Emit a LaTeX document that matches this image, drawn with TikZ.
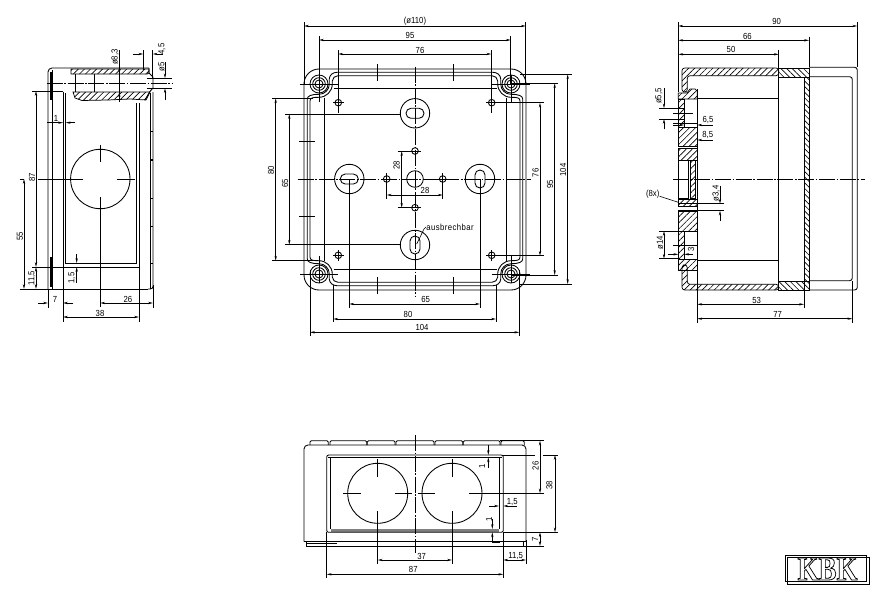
\documentclass[tikz,border=0pt]{standalone}
\usepackage{fontspec}
\setmainfont[FakeStretch=.88]{Liberation Sans}
\newfontfamily\logofont{Liberation Serif}
\usetikzlibrary{arrows.meta,patterns.meta}
\tikzset{
	>={Stealth[length=3.6pt,width=1.7pt]},
	partline/.style={line width=.65pt},
	boldline/.style={line width=1.1pt},
	extline/.style={line width=.45pt},
	dimline/.style={line width=.45pt,<->},
	centerline/.style={line width=.4pt,dash pattern=on 12pt off 1.2pt on 1.2pt off 1.2pt},
	hatch/.style={line width=.55pt,pattern={Lines[angle=45,distance=3.2pt,line width=.5pt]}},
	backhatch/.style={line width=.55pt,pattern={Lines[angle=-45,distance=3pt,line width=.5pt]}},
	dimtext/.style={font=\fontsize{6.6}{7}\selectfont,inner sep=0pt},
	dimtextv/.style={dimtext,rotate=90},
}
\begin{document}
\begin{tikzpicture}[x=.75pt,y=-.75pt]
	\useasboundingbox (0,0) rectangle (875,600);

	% left view
	\draw[partline,rounded corners=3pt] (48,289) -- (48,68) -- (149,68);
	\draw[partline] (149,68) -- (149,73) -- (153,77) -- (153,88) -- (149.5,92) -- (145,100);
	\draw[partline] (48,289) -- (148,289);
	\draw[partline] (52,70) -- (52,289);
	\fill (49.5,72) rectangle (52,100);
	\fill (49.5,257) rectangle (52,287);
	\draw[hatch] (71,69) -- (149,69) -- (149,73) -- (147,74) -- (71,74) -- cycle;
	\draw[hatch] (73,92) -- (150,92) -- (146,100) -- (130,99) -- (108,100) -- (82,100.5) -- (75,98) -- cycle;
	\draw[partline] (75,74) -- (75,92);
	\draw[boldline] (94.3,74) -- (94.3,92);
	\draw[partline] (147,78.3) -- (153,78.3);
	\draw[partline] (147,88.3) -- (153,88.3);
	\draw[partline] (63,92) -- (63,267) -- (139,267) -- (139,103);
	\draw[partline] (65.7,93) -- (65.7,263) -- (136.7,263) -- (136.7,103);
	\draw[partline,rounded corners=2pt] (150,93) -- (150,289);
	\draw[partline,rounded corners=2pt] (153,92) -- (153,289) -- (148,289);
	\foreach \ty in {131.7,160,198.3,226.7,263.3}
		\draw[boldline] (150,\ty) -- (152.5,\ty);
	\draw[partline] (100.3,179) circle[radius=29.7];
	\draw[extline] (38,179) -- (83,179);
	\draw[extline] (117,179) -- (135,179);
	\draw[extline] (100.3,145) -- (100.3,162);
	\draw[extline] (100.3,197) -- (100.3,307);
	\draw[centerline] (46.7,83.3) -- (171.7,83.3);

	\draw[extline] (32,91) -- (63,91);
	\draw[extline] (32,267) -- (65,267);
	\draw[extline] (20,289) -- (48,289);
	\draw[dimline] (36,91) -- (36,267);
	\draw[dimline] (36,267) -- (36,289);
	\draw[dimline] (24,179) -- (24,289);
	\draw[extline] (24,179) -- (20,179);
	\node[dimtextv] (leftA) at (32,177) {87};
	\node[dimtextv] (leftB) at (20,236) {55};
	\node[dimtextv] (leftC) at (32,278) {11,5};
	\draw[->,extline] (47,122.7) -- (63,122.7);
	\draw[->,extline] (75,122.7) -- (65.7,122.7);
	\node[dimtext] (leftD) at (56,118) {1};
	\draw[->,extline] (76.7,254) -- (76.7,263);
	\draw[->,extline] (76.7,283) -- (76.7,267);
	\node[dimtextv] (leftE) at (72,278) {1,5};
	\draw[extline] (48,289) -- (48,308);
	\draw[extline] (63,267) -- (63,322);
	\draw[extline] (139,267) -- (139,322);
	\draw[extline] (153,285) -- (153,308);
	\draw[->,extline] (38,303) -- (48,303);
	\draw[->,extline] (73,303) -- (63,303);
	\node[dimtext] (leftF) at (55,299) {7};
	\draw[dimline] (100.3,303) -- (153,303);
	\node[dimtext] (leftG) at (128,299) {26};
	\draw[dimline] (63,317) -- (139,317);
	\node[dimtext] (leftH) at (100,313) {38};
	\draw[extline] (119.3,50) -- (119.3,102);
	\draw[->,extline] (119.3,60) -- (119.3,74);
	\draw[->,extline] (119.3,100) -- (119.3,92);
	\node[dimtextv] (leftI) at (115,57) {ø8,3};
	\draw[extline] (143.3,50) -- (143.3,70);
	\draw[extline] (152.7,50) -- (152.7,78);
	\draw[->,extline] (133,54) -- (143.3,54);
	\draw[->,extline] (163,54) -- (152.7,54);
	\node[dimtextv] (leftJ) at (162,49) {4,5};
	\draw[extline] (150,78.3) -- (172,78.3);
	\draw[extline] (150,88.3) -- (172,88.3);
	\draw[->,extline] (165,62) -- (165,78.3);
	\draw[->,extline] (165,100) -- (165,88.3);
	\node[dimtextv] (leftK) at (161.5,67) {ø5};

	% top view
	\draw[partline,rounded corners=11.25pt] (304,69) rectangle (526,290);
	\foreach \sx/\sy in {1/1,-1/1,1/-1,-1/-1} {
		\begin{scope}[shift={(415,179)},xscale=\sx,yscale=\sy]
			\draw[partline] (-107.7,0) -- (-107.7,-80) .. controls (-107.7,-83) and (-104,-84.7) .. (-96,-84.7) .. controls (-90.3,-84.7) and (-85.7,-89.3) .. (-85.7,-95) -- (-85.7,-100) .. controls (-85.7,-104) and (-82,-106.7) .. (-78,-106.7) -- (0,-106.7);
			\draw[partline] (-105,0) -- (-105,-78) .. controls (-105,-81.4) and (-102,-81.7) .. (-96,-81.7) .. controls (-88.7,-81.7) and (-82.7,-87.7) .. (-82.7,-95) -- (-82.7,-98) .. controls (-82.7,-101) and (-80,-103.3) .. (-77,-103.3) -- (0,-103.3);
			\draw[partline] (-81.5,-90.7) -- (0,-90.7);
			\draw[partline] (-91,-81.5) -- (-91,0);
			\draw[partline] (-96,-95) circle[radius=9];
			\draw[partline] (-96,-95) circle[radius=6.3];
			\draw[partline] (-96,-95) circle[radius=4];
			\draw[extline] (-115,-95) -- (-77,-95);
			\draw[extline] (-96,-104) -- (-96,-77);
			\draw[extline] (-38,-115) -- (-38,-98);
			\draw[partline] (-76.7,-76.3) circle[radius=3.3];
			\draw[extline] (-82.2,-76.3) -- (-71.2,-76.3);
			\draw[extline] (-76.7,-82) -- (-76.7,-70.5);
		\end{scope}
	}
	\draw[extline] (299,141.7) -- (315,141.7);
	\draw[extline] (299,216.7) -- (315,216.7);
	\draw[centerline] (415,66.7) -- (415,296.7);
	\draw[centerline] (297.7,179) -- (531,179);
	\foreach \kx/\ky in {415/113.3,349.3/179}
		{\draw[partline] (\kx,\ky) circle[radius=14.7];
		\draw[partline,rounded corners=3.7pt] (\kx-9,\ky-5) rectangle (\kx+9,\ky+5);}
	\foreach \kx/\ky in {415/245,480/179}
		{\draw[partline] (\kx,\ky) circle[radius=14.7];
		\draw[partline,rounded corners=3.7pt] (\kx-5,\ky-9) rectangle (\kx+5,\ky+9);}
	\draw[partline] (415,179) circle[radius=8.3];
	\foreach \hx/\hy in {415/151,415/207.7,386.7/179,442.7/179}
		\draw[partline] (\hx,\hy) circle[radius=3.3];
	\draw[extline] (397.7,151) -- (421,151);
	\draw[extline] (397.7,207.7) -- (421,207.7);
	\draw[dimline] (401.7,151) -- (401.7,207.7);
	\node[dimtextv] (topK) at (396.7,165) {28};
	\draw[extline] (386.7,173) -- (386.7,199);
	\draw[extline] (442.7,173) -- (442.7,199);
	\draw[dimline] (386.7,195) -- (442.7,195);
	\node[dimtext] (topL) at (425,190.7) {28};

	\draw[extline] (304,22) -- (304,84);
	\draw[extline] (525.7,22) -- (525.7,84);
	\draw[dimline] (304,26) -- (525.7,26);
	\node[dimtext] (topA) at (415,21) {(ø110)};
	\draw[extline] (319,36) -- (319,84);
	\draw[extline] (510.7,36) -- (510.7,84);
	\draw[dimline] (319,40) -- (510.7,40);
	\node[dimtext] (topB) at (410,35) {95};
	\draw[extline] (338.3,50) -- (338.3,113);
	\draw[extline] (491.3,50) -- (491.3,113);
	\draw[dimline] (338.3,54) -- (491.3,54);
	\node[dimtext] (topC) at (420,50) {76};

	\draw[extline] (272,98.3) -- (313,98.3);
	\draw[extline] (272,260.7) -- (313,260.7);
	\draw[dimline] (275.7,98.3) -- (275.7,260.7);
	\node[dimtextv] (topD) at (271,170) {80};
	\draw[extline] (285.3,114) -- (400,114);
	\draw[extline] (285.3,244.7) -- (400,244.7);
	\draw[dimline] (289.3,114) -- (289.3,244.7);
	\node[dimtextv] (topE) at (285,183) {65};

	\draw[extline] (520,74.3) -- (572,74.3);
	\draw[extline] (520,284) -- (572,284);
	\draw[dimline] (567.7,74.3) -- (567.7,284);
	\node[dimtextv] (topF) at (563,170) {104};
	\draw[extline] (511,83.3) -- (558,83.3);
	\draw[extline] (511,275) -- (558,275);
	\draw[dimline] (554.7,83.3) -- (554.7,275);
	\node[dimtextv] (topG) at (550,184) {95};
	\draw[extline] (491,102.7) -- (544,102.7);
	\draw[extline] (491,255.7) -- (544,255.7);
	\draw[dimline] (540,102.7) -- (540,255.7);
	\node[dimtextv] (topH) at (535.7,172.7) {76};

	\draw[extline] (349.3,179) -- (349.3,307.7);
	\draw[extline] (480,179) -- (480,307.7);
	\draw[dimline] (349.3,304) -- (480,304);
	\node[dimtext] (topI) at (425.7,299.3) {65};
	\draw[extline] (333.3,285) -- (333.3,322);
	\draw[extline] (496,285) -- (496,322);
	\draw[dimline] (333.3,319) -- (496,319);
	\node[dimtext] (topJ) at (408,314) {80};
	\draw[extline] (310,270) -- (310,336);
	\draw[extline] (519.3,270) -- (519.3,336);
	\draw[dimline] (310,332.3) -- (519.3,332.3);
	\node[dimtext] (topM) at (422,327.7) {104};

	\node[dimtext,anchor=west,font=\fontsize{6.6}{7}\selectfont\addfontfeature{LetterSpace=5}] (topN) at (426,227.3) {ausbrechbar};
	\draw[extline] (426,227) -- (424,229) -- (416.7,244);

	% right view
	\draw[hatch,rounded corners=2pt] (682,92) -- (682,68) -- (778.7,68) -- (778.7,75.7) -- (687.3,75.7) -- (687.3,92) -- cycle;
	\draw[backhatch] (778.7,68) -- (809,68) -- (809,77) -- (778.7,77) -- cycle;
	\draw[backhatch] (804,77) -- (809,77) -- (809,281) -- (804,281) -- cycle;
	\draw[backhatch] (778.7,281) -- (809,281) -- (809,290) -- (778.7,290) -- cycle;
	\draw[hatch,rounded corners=2pt] (682,265) -- (682,290) -- (778.7,290) -- (778.7,284.3) -- (687.3,284.3) -- (687.3,265) -- cycle;
	\draw[hatch] (678.3,93) -- (687,93) -- (690,89) -- (695,89) -- (697.3,91) -- (697.3,99) -- (678.3,99) -- cycle;
	\draw[hatch] (678.3,99) rectangle (684.3,127);
	\draw[hatch] (678.3,127) rectangle (697.3,146.7);
	\draw[hatch] (678.3,148) rectangle (697.3,160);
	\draw[hatch] (690,160) rectangle (695,198);
	\draw[hatch] (678.3,199.3) rectangle (697.3,206.7);
	\draw[hatch] (678.3,211.7) rectangle (697.3,231);
	\draw[hatch] (678.3,231) rectangle (684.3,259.3);
	\draw[hatch] (678.3,259.3) rectangle (697.3,270);
	\draw[partline] (678.3,160) rectangle (688,198);
	\draw[partline] (697.3,89) -- (697.3,284.3);
	\draw[partline] (778.7,75.7) -- (778.7,284.3);
	\draw[partline] (697.3,98.3) -- (778.7,98.3);
	\draw[partline] (697.3,260.7) -- (778.7,260.7);
	\draw[partline,rounded corners=2pt] (809,67.3) -- (857.3,67.3) -- (857.3,290) -- (809,290);
	\draw[partline,rounded corners=2pt] (809,76.7) -- (852.3,76.7) -- (852.3,280.7) -- (809,280.7);
	\draw[centerline] (673.3,179) -- (865,179);

	\draw[extline] (678.3,22) -- (678.3,92);
	\draw[extline] (857.3,22) -- (857.3,67);
	\draw[dimline] (678.3,26) -- (857.3,26);
	\node[dimtext] (rightA) at (776.7,21) {90};
	\draw[extline] (809,36.7) -- (809,67);
	\draw[dimline] (678.3,40.3) -- (809,40.3);
	\node[dimtext] (rightB) at (747.3,36) {66};
	\draw[extline] (778.7,50) -- (778.7,68);
	\draw[dimline] (678.3,54.3) -- (778.7,54.3);
	\node[dimtext] (rightC) at (731,49.7) {50};

	\draw[extline] (659.3,108.3) -- (684,108.3);
	\draw[extline] (659.3,119) -- (684,119);
	\draw[extline] (673,113.3) -- (693,113.3);
	\draw[->,extline] (664,88) -- (664,108.3);
	\draw[->,extline] (664,129.3) -- (664,119);
	\node[dimtextv] (rightD) at (659,96) {ø5,5};
	\draw[extline] (673,123) -- (698,123);
	\draw[<-,extline] (684.3,125) -- (673,125);
	\draw[<-,extline] (697.3,125) -- (713,125);
	\node[dimtext] (rightE) at (708,120) {6,5};
	\draw[<-,extline] (697.3,140) -- (712.7,140);
	\node[dimtext] (rightF) at (707.7,135.3) {8,5};
	\node[dimtext] (rightG) at (652.7,194) {(8x)};
	\draw[extline] (rightG) -- (678.3,202.3);
	\draw[extline] (678,203.7) -- (724,203.7);
	\draw[extline] (678,210.7) -- (724,210.7);
	\draw[->,extline] (720,185.7) -- (720,203.7);
	\draw[->,extline] (720,221) -- (720,210.7);
	\node[dimtextv] (rightH) at (716,193.3) {ø3,4};
	\draw[extline] (659.3,231) -- (680,231);
	\draw[extline] (659.3,258.7) -- (680,258.7);
	\draw[dimline] (664,231) -- (664,258.7);
	\node[dimtextv] (rightI) at (660,243) {ø14};
	\draw[extline] (673,245) -- (698,245);
	\draw[->,extline] (668.3,254.3) -- (678.3,254.3);
	\draw[->,extline] (693.3,254.3) -- (684.3,254.3);
	\node[dimtextv] (rightJ) at (691,249) {3};
	\draw[extline] (697.3,284) -- (697.3,322.7);
	\draw[extline] (804,281) -- (804,307.7);
	\draw[extline] (852.3,281) -- (852.3,322.7);
	\draw[dimline] (697.3,304.3) -- (804,304.3);
	\node[dimtext] (rightK) at (756.7,300) {53};
	\draw[dimline] (697.3,318.7) -- (852.3,318.7);
	\node[dimtext] (rightL) at (777.7,314) {77};

	% bottom view
	\draw[partline,rounded corners=3pt] (304,541.7) -- (304,445) -- (526,445) -- (526,541.7);
	\draw[partline] (304,541.7) -- (526,541.7);
	\draw[partline] (306.7,541.7) rectangle (523.3,546);
	\draw[partline] (306.7,543.5) -- (337,543.5);
	\foreach \ta/\tb in {310/328.3,330/366.7,367.3/395,396/434,435/462.7,463.3/500,501/524.3}
		\draw[partline,rounded corners=1pt] (\ta,445) -- (\ta,440.7) -- (\tb,440.7) -- (\tb,445);
	\fill[gray] (330.7,529) rectangle (499,532.3);
	\draw[partline,rounded corners=1.5pt] (326.7,455) rectangle (503.3,532.3);
	\draw[partline] (330.7,457.3) -- (330.7,529);
	\draw[partline] (499,457.3) -- (499,529);
	\draw[partline] (328,457.3) -- (502,457.3);
	\foreach \cx in {377.7,452}
		{\draw[partline] (\cx,493.3) circle[radius=30];
		\draw[extline] (\cx,459) -- (\cx,477);
		\draw[extline] (\cx,511) -- (\cx,564);}
	\draw[extline] (343,493.3) -- (360.7,493.3);
	\draw[extline] (395,493.3) -- (412,493.3);
	\draw[extline] (418.3,493.3) -- (435,493.3);
	\draw[extline] (469.3,493.3) -- (544,493.3);
	\draw[centerline] (415,435) -- (415,553.3);

	\draw[extline] (500,440.7) -- (544,440.7);
	\draw[dimline] (540,440.7) -- (540,493.3);
	\node[dimtextv] (botA) at (535.7,465.7) {26};
	\draw[extline] (503.3,455) -- (535,455);
	\draw[extline] (543,455) -- (558.3,455);
	\draw[extline] (503.3,532.3) -- (558.3,532.3);
	\draw[dimline] (555,455) -- (555,532.3);
	\node[dimtextv] (botB) at (549.3,485) {38};
	\draw[extline] (523,546) -- (544,546);
	\draw[dimline] (540,532.3) -- (540,546);
	\node[dimtextv] (botC) at (535,539) {7};
	\draw[->,extline] (488.3,445) -- (488.3,455);
	\draw[->,extline] (488.3,467.7) -- (488.3,457.3);
	\node[dimtextv] (botD) at (482,466) {1};
	\draw[->,extline] (489.3,506) -- (499,506);
	\draw[->,extline] (516.7,506) -- (503.3,506);
	\node[dimtext] (botE) at (512.3,502.5) {1,5};
	\draw[->,extline] (492.3,519) -- (492.3,529);
	\draw[->,extline] (492.3,542.3) -- (492.3,532.3);
	\draw[extline] (492.3,542.3) -- (500,542.3);
	\node[dimtextv] (botF) at (489,519) {1};
	\draw[extline] (503.3,532.3) -- (503.3,563);
	\draw[extline] (526,540) -- (526,564.3);
	\draw[dimline] (503.3,560) -- (526,560);
	\node[dimtext] (botG) at (515.7,555.7) {11,5};
	\draw[dimline] (377.7,560) -- (452,560);
	\node[dimtext] (botH) at (421.7,556) {37};
	\draw[extline] (326.7,532.3) -- (326.7,577.7);
	\draw[extline] (503.3,560) -- (503.3,577.7);
	\draw[dimline] (326.7,574.3) -- (503.3,574.3);
	\node[dimtext] (botI) at (413.3,569.3) {87};

	% logo
	\draw[partline] (785,555) rectangle (866.7,581);
	\draw[partline] (787.3,557.7) rectangle (869.3,584);
	\node[inner sep=0pt] (logo) at (827.5,569) {\resizebox{45pt}{16.5pt}{\logofont\bfseries\special{pdf:code 1 Tr 0.25 w}KBK\special{pdf:code 0 Tr}}};
\end{tikzpicture}
\end{document}
